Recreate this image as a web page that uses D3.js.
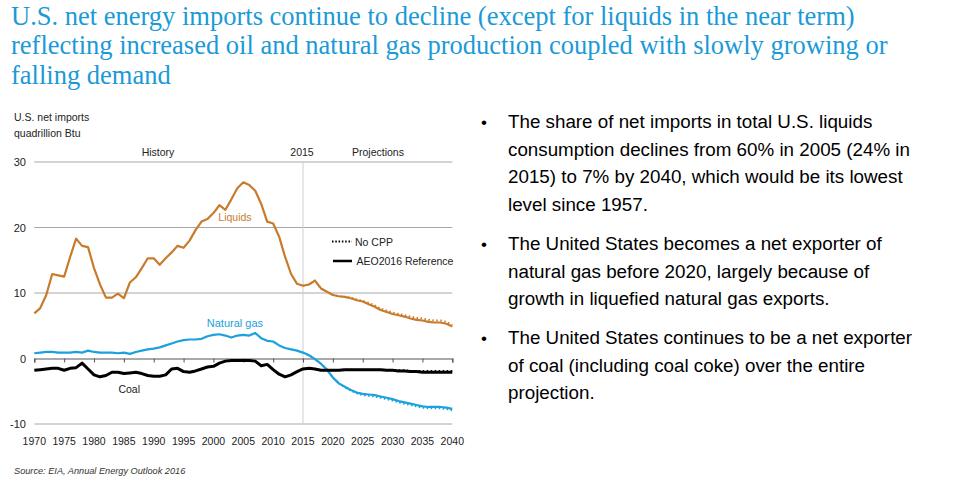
<!DOCTYPE html>
<html><head><meta charset="utf-8">
<script src="https://cdn.jsdelivr.net/npm/d3@7"></script>
<style>
body{margin:0;background:#fff;}
svg{display:block;}
</style></head>
<body>
<svg id="c" width="972" height="494"></svg>
<script>
const years = d3.range(1970, 2041);
const liquids = [6.9,7.7,9.7,12.9,12.7,12.5,15.5,18.3,17.2,17.0,13.8,11.3,9.3,9.3,9.9,9.2,11.6,12.4,13.8,15.3,15.3,14.3,15.3,16.2,17.2,16.9,18.0,19.6,20.9,21.3,22.2,23.4,22.7,24.3,26.0,26.9,26.5,25.6,23.6,20.9,20.6,18.6,15.5,12.9,11.4,11.1,11.3,11.9,10.7,10.2,9.7,9.5,9.4,9.2,8.9,8.7,8.3,7.9,7.4,7.1,6.8,6.6,6.4,6.1,5.9,5.8,5.6,5.5,5.5,5.3,4.9];
const naturalGas = [0.8,0.9,1.0,1.0,0.9,0.9,0.9,1.0,0.9,1.2,1.0,0.9,0.9,0.9,0.8,0.9,0.7,1.0,1.2,1.4,1.5,1.7,2.0,2.3,2.6,2.8,2.9,2.9,3.0,3.4,3.6,3.7,3.5,3.2,3.5,3.6,3.5,3.9,3.1,2.7,2.6,2.0,1.6,1.4,1.2,0.9,0.5,-0.1,-0.8,-1.7,-2.9,-3.8,-4.3,-4.8,-5.2,-5.4,-5.5,-5.6,-5.8,-6.0,-6.2,-6.5,-6.7,-6.9,-7.1,-7.3,-7.4,-7.4,-7.4,-7.5,-7.7];
const coal = [-1.8,-1.7,-1.6,-1.5,-1.5,-1.8,-1.5,-1.4,-0.7,-1.6,-2.5,-2.8,-2.6,-2.1,-2.1,-2.3,-2.2,-2.1,-2.3,-2.6,-2.7,-2.7,-2.5,-1.6,-1.5,-2.0,-2.1,-1.9,-1.6,-1.3,-1.2,-0.7,-0.4,-0.3,-0.3,-0.3,-0.3,-0.4,-1.1,-0.9,-1.7,-2.4,-2.8,-2.5,-2.0,-1.6,-1.5,-1.6,-1.8,-1.8,-1.8,-1.8,-1.7,-1.7,-1.7,-1.7,-1.7,-1.7,-1.7,-1.8,-1.8,-1.9,-1.9,-2.0,-2.0,-2.1,-2.1,-2.1,-2.1,-2.1,-2.1];
// No CPP side case, projection years 2015-2040
const projYears = d3.range(2015, 2041);
const liquidsNoCPP = [11.1,11.3,11.9,10.7,10.2,9.7,9.5,9.4,9.3,9.0,8.8,8.5,8.1,7.6,7.3,7.0,6.8,6.6,6.4,6.2,6.1,5.9,5.8,5.8,5.6,5.1];
const gasNoCPP = [0.9,0.5,-0.1,-0.8,-1.7,-2.9,-3.8,-4.4,-4.9,-5.3,-5.6,-5.7,-5.8,-6.0,-6.2,-6.4,-6.7,-6.9,-7.1,-7.3,-7.5,-7.6,-7.6,-7.6,-7.7,-7.9];
const coalNoCPP = [-1.6,-1.5,-1.6,-1.8,-1.8,-1.8,-1.8,-1.7,-1.7,-1.7,-1.7,-1.7,-1.7,-1.7,-1.8,-1.8,-1.8,-1.8,-1.9,-1.9,-1.9,-1.9,-1.9,-1.9,-1.9,-1.9];
const yTicks = [-10, 0, 10, 20, 30];
const xTicks = d3.range(1970, 2041, 5);

const titleLines = ["U.S. net energy imports continue to decline (except for liquids in the near term)",
  "reflecting increased oil and natural gas production coupled with slowly growing or",
  "falling demand"];
const bullets = [
  ["The share of net imports in total U.S. liquids","consumption declines from 60% in 2005 (24% in","2015) to 7% by 2040, which would be its lowest","level since 1957."],
  ["The United States becomes a net exporter of","natural gas before 2020, largely because of","growth in liquefied natural gas exports."],
  ["The United States continues to be a net exporter","of coal (including coal coke) over the entire","projection."]
];

const svg = d3.select("#c");
const sans = "'Liberation Sans', Arial, sans-serif";
const cOil = "#c97b2c", cGas = "#1ba1de", cCoal = "#000";

// Title
svg.append("g").selectAll("text").data(titleLines).join("text")
  .attr("x", 11).attr("y", (d,i)=>24.5 + i*29.5)
  .attr("font-family","'Liberation Serif', 'Times New Roman', serif")
  .attr("font-size", 26.5).attr("fill", "#1a9ad6").text(d=>d);

// Bullets
const bStarts = [128, 250, 344];
bullets.forEach((b, bi) => {
  svg.append("text").attr("x", 481).attr("y", bStarts[bi]).attr("font-family", sans)
    .attr("font-size", 17).attr("fill","#000").text("•");
  b.forEach((line, li) => {
    svg.append("text").attr("x", 508).attr("y", bStarts[bi] + li*27.6)
      .attr("font-family", sans).attr("font-size", 18.8).attr("fill","#000").text(line);
  });
});

// Chart
const x = d3.scaleLinear().domain([1970, 2040]).range([34.3, 452.3]);
const y = d3.scaleLinear().domain([-10, 30]).range([424, 162]);

const g = svg.append("g");
// gridlines
g.selectAll("line.grid").data(yTicks.filter(v=>v!==0)).join("line")
  .attr("x1", x(1970)).attr("x2", x(2040)).attr("y1", d=>y(d)).attr("y2", d=>y(d))
  .attr("stroke", "#a8a8a8").attr("stroke-width", 1);
// 2015 divider
g.append("line").attr("x1", x(2015)).attr("x2", x(2015)).attr("y1", y(30)).attr("y2", y(-10))
  .attr("stroke", "#cfcfcf").attr("stroke-width", 1);
// y tick labels
g.selectAll("text.yt").data(yTicks).join("text")
  .attr("x", 26).attr("y", d=>y(d)+4).attr("text-anchor","end")
  .attr("font-family", sans).attr("font-size", 11).attr("fill","#222").text(d=>d);

// zero axis with ticks
const xAxis = d3.axisBottom(x).tickValues(xTicks).tickSize(4).tickFormat("");
const ax = g.append("g").attr("transform", `translate(0,${y(0)})`).call(xAxis);
ax.select(".domain").attr("stroke", "#555").attr("stroke-width", 1.2);
ax.selectAll(".tick line").attr("stroke", "#555");
// x tick labels at bottom
g.selectAll("text.xt").data(xTicks).join("text")
  .attr("x", d=>x(d)).attr("y", 445).attr("text-anchor","middle")
  .attr("font-family", sans).attr("font-size", 10.5).attr("fill","#222").text(d=>d);

// axis title
g.append("text").attr("x", 14).attr("y", 121).attr("font-family", sans).attr("font-size", 10.5).attr("fill","#222").text("U.S. net imports");
g.append("text").attr("x", 14).attr("y", 137).attr("font-family", sans).attr("font-size", 10.5).attr("fill","#222").text("quadrillion Btu");
g.append("text").attr("x", 158).attr("y", 156).attr("text-anchor","middle").attr("font-family", sans).attr("font-size", 10.5).attr("fill","#222").text("History");
g.append("text").attr("x", 302).attr("y", 156).attr("text-anchor","middle").attr("font-family", sans).attr("font-size", 10.5).attr("fill","#222").text("2015");
g.append("text").attr("x", 378).attr("y", 156).attr("text-anchor","middle").attr("font-family", sans).attr("font-size", 10.5).attr("fill","#222").text("Projections");

const line = d3.line().x(d=>x(d[0])).y(d=>y(d[1]));
function draw(xs, vs, color, w, dash) {
  g.append("path").datum(xs.map((yr,i)=>[yr, vs[i]]))
    .attr("d", line).attr("fill","none").attr("stroke", color).attr("stroke-width", w)
    .attr("stroke-linejoin","round").attr("stroke-dasharray", dash || null);
}
draw(projYears, liquidsNoCPP, cOil, 2, "1.5,2.5");
draw(projYears, gasNoCPP, cGas, 2, "1.5,2.5");
draw(projYears, coalNoCPP, cCoal, 2, "1.5,2.5");
draw(years, liquids, cOil, 2.2);
draw(years, naturalGas, cGas, 2.2);
draw(years, coal, cCoal, 3);

// series labels
g.append("text").attr("x", x(2003.6)).attr("y", 221).attr("text-anchor","middle").attr("font-family", sans).attr("font-size", 10.5).attr("fill", cOil).text("Liquids");
g.append("text").attr("x", x(2003.6)).attr("y", 327).attr("text-anchor","middle").attr("font-family", sans).attr("font-size", 11).attr("fill", cGas).text("Natural gas");
g.append("text").attr("x", x(1985.9)).attr("y", 393).attr("text-anchor","middle").attr("font-family", sans).attr("font-size", 10.5).attr("fill", "#222").text("Coal");

// legend
const leg = g.append("g");
leg.append("line").attr("x1", 332).attr("x2", 352).attr("y1", 241.5).attr("y2", 241.5).attr("stroke","#000").attr("stroke-width",1.8).attr("stroke-dasharray","1.5,1.8");
leg.append("text").attr("x", 355).attr("y", 245.5).attr("font-family", sans).attr("font-size", 10.5).attr("fill","#222").text("No CPP");
leg.append("line").attr("x1", 333).attr("x2", 352).attr("y1", 261).attr("y2", 261).attr("stroke","#000").attr("stroke-width",2.5);
leg.append("text").attr("x", 356.5).attr("y", 265).attr("font-family", sans).attr("font-size", 10.5).attr("fill","#222").text("AEO2016 Reference");

// source
svg.append("text").attr("x", 14).attr("y", 474).attr("font-family", sans).attr("font-size", 9.2)
  .attr("font-style","italic").attr("fill","#333").text("Source:  EIA, Annual Energy Outlook 2016");
</script>
</body></html>
